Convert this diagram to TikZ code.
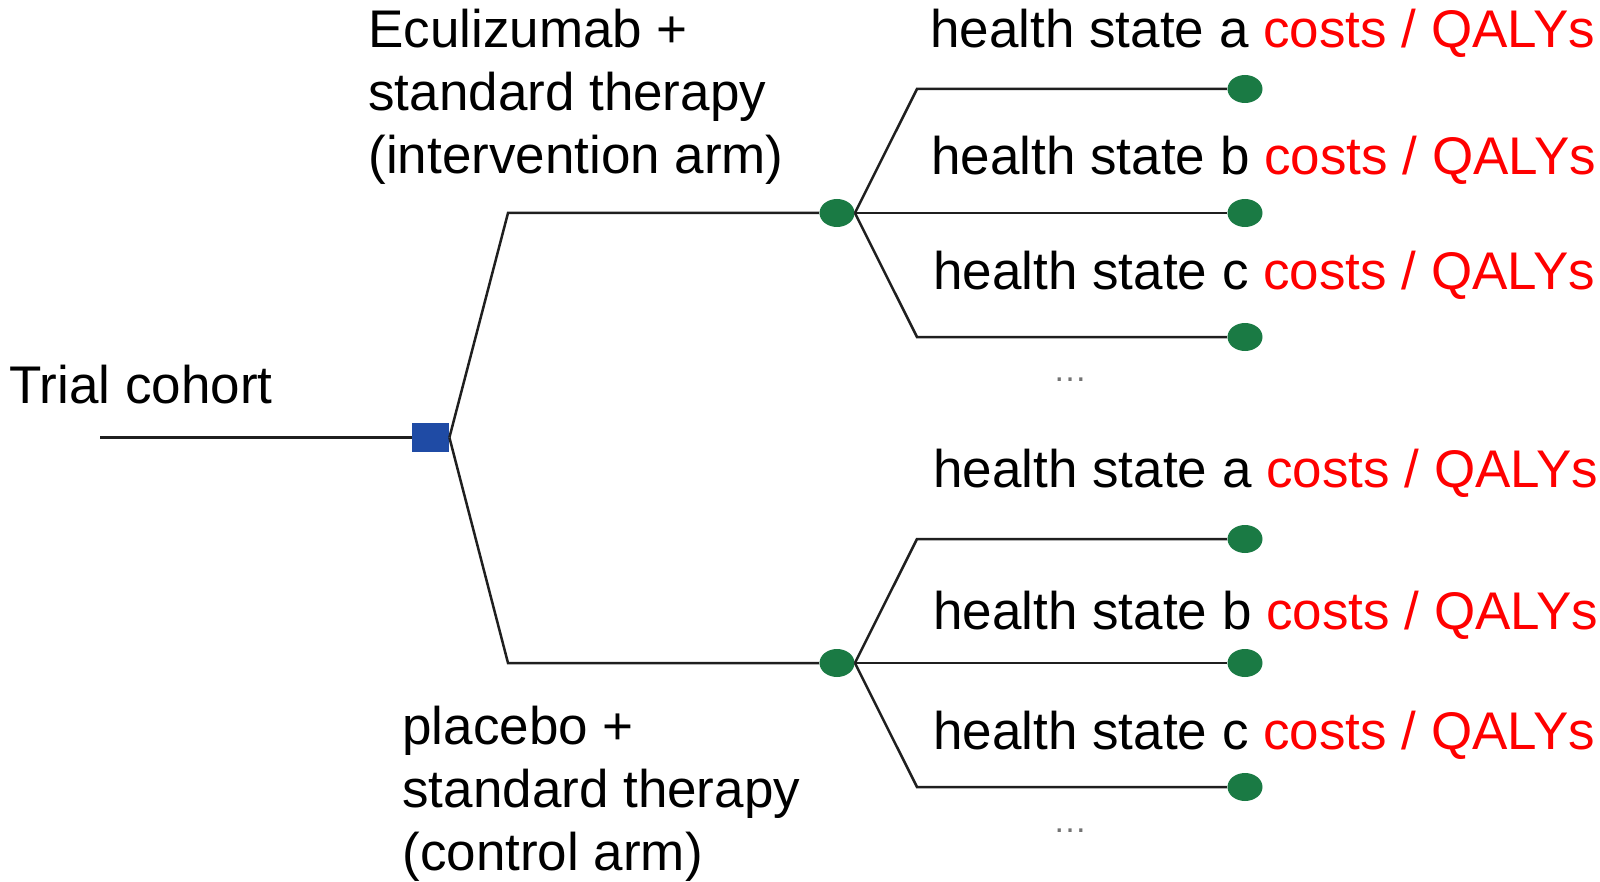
\documentclass[tikz,border=0pt]{standalone}
\usepackage{fontspec}
\setmainfont{Liberation Sans}
\usetikzlibrary{shapes.geometric}
\definecolor{boxblue}{RGB}{31,75,165}
\definecolor{dotgreen}{RGB}{26,122,68}
\definecolor{costred}{RGB}{255,0,0}
\begin{document}
\begin{tikzpicture}[x=0.5pt,y=-0.5pt,
  branch/.style={draw=black!88, line width=1.25pt},
  lbl/.style={inner sep=0pt, anchor=base west, font=\fontsize{26.5}{31.5}\selectfont},
  chance/.style={ellipse, fill=dotgreen, minimum width=17.5pt, minimum height=14pt, inner sep=0pt},
  decision/.style={rectangle, fill=boxblue, minimum width=18.5pt, minimum height=14.5pt, inner sep=0pt},
  ell/.style={inner sep=0pt, anchor=base, text=black!55, font=\fontsize{17}{20}\selectfont}]
\useasboundingbox (0,0) rectangle (1600,882);
% nodes
\coordinate (start) at (100,437.5);
\node[decision] (dec) at (430.5,437.5) {};
\coordinate (upK) at (508,213);
\coordinate (loK) at (508,663);
\node[chance] (c1) at (837,213) {};
\node[chance] (c2) at (837,663) {};
\coordinate (k1) at (917,89);
\coordinate (k3) at (917,337);
\coordinate (k4) at (917,539);
\coordinate (k6) at (917,787);
\node[chance] (t1) at (1245,89) {};
\node[chance] (t2) at (1245,213) {};
\node[chance] (t3) at (1245,337) {};
\node[chance] (t4) at (1245,539) {};
\node[chance] (t5) at (1245,663) {};
\node[chance] (t6) at (1245,787) {};
% connectors
\draw[branch] (start) -- (dec.west);
\draw[branch] (dec.east) -- (upK) -- (c1);
\draw[branch] (dec.east) -- (loK) -- (c2);
\draw[branch] (c1.east) -- (k1) -- (t1);
\draw[branch] (c1.east) -- (t2);
\draw[branch] (c1.east) -- (k3) -- (t3);
\draw[branch] (c2.east) -- (k4) -- (t4);
\draw[branch] (c2.east) -- (t5);
\draw[branch] (c2.east) -- (k6) -- (t6);
% labels
\node[lbl] (trial) at (9,403) {Trial cohort};
\node[lbl, align=left] (arm1) at (368,174) {Eculizumab +\\standard therapy\\(intervention arm)};
\node[lbl, align=left] (arm2) at (402,870) {placebo +\\standard therapy\\(control arm)};
\node[lbl] (h1) at (930,48) {health state a \textcolor{costred}{costs / QALYs}};
\node[lbl] (h2) at (931,175) {health state b \textcolor{costred}{costs / QALYs}};
\node[lbl] (h3) at (933,290) {health state c \textcolor{costred}{costs / QALYs}};
\node[lbl] (h4) at (933,487) {health state a \textcolor{costred}{costs / QALYs}};
\node[lbl] (h5) at (933,629) {health state b \textcolor{costred}{costs / QALYs}};
\node[lbl] (h6) at (933,749) {health state c \textcolor{costred}{costs / QALYs}};
\node[ell] (e1) at (1070,381) {…};
\node[ell] (e2) at (1070,832) {…};
\end{tikzpicture}
\end{document}
